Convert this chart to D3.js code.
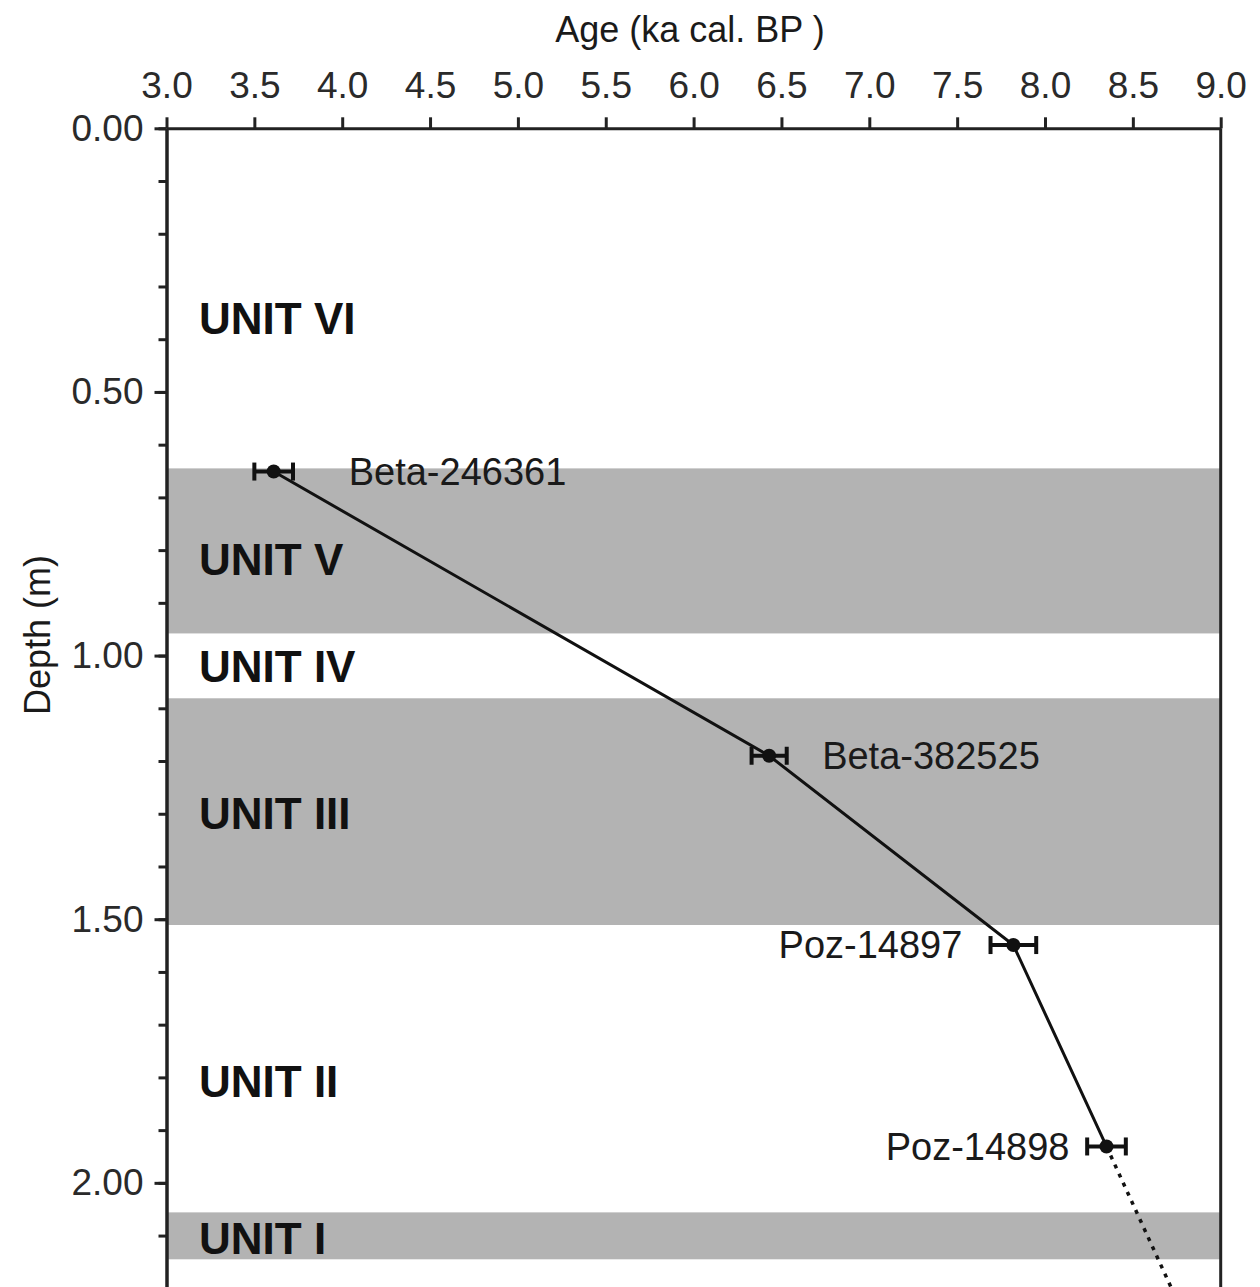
<!DOCTYPE html>
<html>
<head>
<meta charset="utf-8">
<script src="https://cdn.jsdelivr.net/npm/d3@7"></script>
<style>
  body { margin: 0; background: #fff; }
  svg { display: block; }
  text { font-family: "Liberation Sans", Arial, sans-serif; fill: #1a1a1a; }
</style>
</head>
<body>
<div id="chart"></div>
<script>
// Radiocarbon samples (age in ka cal. BP, depth in m)
const sampleLabels = ['Beta-246361', 'Beta-382525', 'Poz-14897', 'Poz-14898'];
const sampleAges = [3.61, 6.43, 7.82, 8.35];
const sampleErrors = [0.11, 0.10, 0.13, 0.11];
const sampleDepths = [0.651, 1.190, 1.549, 1.931];

// Extrapolation below the last date (dotted)
const extraAges = [8.35, 8.72];
const extraDepths = [1.931, 2.20];

// Lithological units
const unitNames = ['UNIT VI', 'UNIT V', 'UNIT IV', 'UNIT III', 'UNIT II', 'UNIT I'];
const unitTops = [0, 0.645, 0.958, 1.081, 1.511, 2.056];
const unitBottoms = [0.645, 0.958, 1.081, 1.511, 2.056, 2.145];
const unitShaded = [false, true, false, true, false, true];
const unitLabelDepths = [0.36, 0.817, 1.021, 1.299, 1.808, 2.105];

// Axis ticks
const ageTicks = [3.0, 3.5, 4.0, 4.5, 5.0, 5.5, 6.0, 6.5, 7.0, 7.5, 8.0, 8.5, 9.0];
const depthTicks = [0, 0.5, 1.0, 1.5, 2.0];
const depthMinorTicks = d3.range(0, 23).map(i => i / 10);

// Layout
const W = 1260, H = 1287;
const margin = { top: 128.3, left: 166.5 };
const width = 1054.2;
const height = 1160;

// label nudges (px) relative to each dot
const labelDx = [75, 53, -51, -37];

const svg = d3.select('#chart')
    .append('svg')
        .attr('width', W)
        .attr('height', H);

const g = svg.append('g')
    .attr('transform', `translate(${margin.left},${margin.top})`);

const x = d3.scaleLinear().domain([3, 9]).range([0, width]);
const y = d3.scaleLinear().domain([0, 2.2]).range([0, height]);

// Unit bands
g.selectAll('rect.band')
    .data(unitNames.map((n, i) => ({ top: unitTops[i], bottom: unitBottoms[i], shaded: unitShaded[i] })).filter(d => d.shaded))
    .enter()
    .append('rect')
        .attr('class', 'band')
        .attr('x', 0)
        .attr('width', width)
        .attr('y', d => y(d.top))
        .attr('height', d => y(d.bottom) - y(d.top))
        .attr('fill', '#b3b3b3');

// Unit labels
g.selectAll('text.unit')
    .data(unitNames)
    .enter()
    .append('text')
        .attr('class', 'unit')
        .attr('x', 32.5)
        .attr('y', (d, i) => y(unitLabelDepths[i]))
        .attr('dy', '0.36em')
        .style('font-size', '44px')
        .style('font-weight', 'bold')
        .style('fill', '#111')
        .text(d => d);

// Age-depth line
const samples = sampleLabels.map((label, i) => ({
    label, age: sampleAges[i], err: sampleErrors[i], depth: sampleDepths[i]
}));

const line = d3.line().x(d => x(d.age)).y(d => y(d.depth));

g.append('path')
    .datum(samples)
    .attr('d', line)
    .attr('fill', 'none')
    .attr('stroke', '#111')
    .attr('stroke-width', 3);

g.append('path')
    .datum(extraAges.map((a, i) => ({ age: a, depth: extraDepths[i] })))
    .attr('d', line)
    .attr('fill', 'none')
    .attr('stroke', '#111')
    .attr('stroke-width', 3.5)
    .attr('stroke-dasharray', '4,6');

// Error bars
const bars = g.selectAll('g.sample')
    .data(samples)
    .enter()
    .append('g')
        .attr('class', 'sample');

bars.append('line')
    .attr('x1', d => x(d.age - d.err))
    .attr('x2', d => x(d.age + d.err))
    .attr('y1', d => y(d.depth))
    .attr('y2', d => y(d.depth))
    .attr('stroke', '#111')
    .attr('stroke-width', 4);

[-1, 1].forEach(side => {
    bars.append('line')
        .attr('x1', d => x(d.age + side * d.err))
        .attr('x2', d => x(d.age + side * d.err))
        .attr('y1', d => y(d.depth) - 9)
        .attr('y2', d => y(d.depth) + 9)
        .attr('stroke', '#111')
        .attr('stroke-width', 4);
});

bars.append('circle')
    .attr('cx', d => x(d.age))
    .attr('cy', d => y(d.depth))
    .attr('r', 7)
    .attr('fill', '#111');

bars.append('text')
    .attr('x', (d, i) => x(d.age) + labelDx[i])
    .attr('y', d => y(d.depth))
    .attr('dy', '0.35em')
    .attr('text-anchor', (d, i) => labelDx[i] < 0 ? 'end' : 'start')
    .style('font-size', '38px')
    .text(d => d.label);

// Frame: right side
g.append('line')
    .attr('x1', width).attr('x2', width)
    .attr('y1', 0).attr('y2', height)
    .attr('stroke', '#222')
    .attr('stroke-width', 3);

// Top axis (age)
const xAxis = g.append('g')
    .call(d3.axisTop(x)
        .tickValues(ageTicks)
        .tickFormat(d3.format('.1f'))
        .tickSize(11)
        .tickSizeOuter(0)
        .tickPadding(19));

// Left axis: minor ticks
g.append('g')
    .attr('class', 'minor')
    .call(d3.axisLeft(y)
        .tickValues(depthMinorTicks)
        .tickFormat('')
        .tickSize(8)
        .tickSizeOuter(0));

// Left axis: major ticks with labels
const yAxis = g.append('g')
    .call(d3.axisLeft(y)
        .tickValues(depthTicks)
        .tickFormat(d3.format('.2f'))
        .tickSize(12)
        .tickSizeOuter(0)
        .tickPadding(11));

g.selectAll('.domain, .tick line')
    .attr('stroke', '#222')
    .attr('stroke-width', 3);

xAxis.selectAll('text').style('font-size', '37px').style('fill', '#2a2a2a');
yAxis.selectAll('text').style('font-size', '37px').style('fill', '#2a2a2a');

// Axis titles
svg.append('text')
    .attr('x', 690)
    .attr('y', 41.7)
    .attr('text-anchor', 'middle')
    .style('font-size', '36px')
    .text('Age (ka cal. BP )');

svg.append('text')
    .attr('transform', 'translate(50,635) rotate(-90)')
    .attr('text-anchor', 'middle')
    .style('font-size', '36px')
    .text('Depth (m)');
</script>
</body>
</html>
